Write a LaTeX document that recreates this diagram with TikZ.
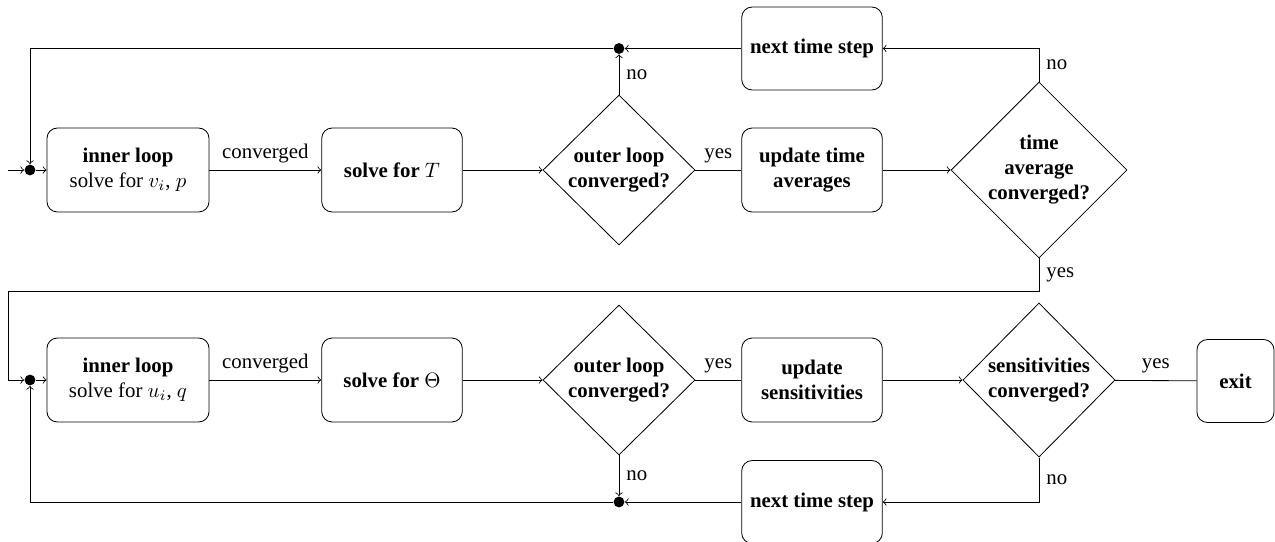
\documentclass[tikz,border=0pt]{standalone}
\usepackage{fontspec}
\setmainfont{Liberation Serif}
\usetikzlibrary{shapes.geometric}

\begin{document}
\begin{tikzpicture}[x=0.48pt, y=-0.48pt,
  box/.style={draw, rounded corners=5pt, align=center, font=\bfseries,
              minimum height=40.3pt, inner sep=2pt},
  wide/.style={minimum width=77.8pt},
  mid/.style={minimum width=67.5pt},
  decide/.style={draw, diamond, align=center, font=\bfseries, inner sep=0pt},
  junction/.style={circle, fill, inner sep=0pt, minimum size=5.2pt},
  flow/.style={->},
]
\useasboundingbox (0,0) rectangle (1275,541);

% ---------- upper loop: flow field ----------
\coordinate (start) at (8,170);
\node[junction] (dot1) at (30,170) {};
\node[box, wide] (in1) at (128,170) {inner loop\\\mdseries solve for $v_i$, $p$};
\node[box, mid] (solveT) at (392,170) {solve for $T$};
\node[decide, minimum width=73pt, minimum height=72pt] (d1) at (619,170) {outer loop\\converged?};
\node[box, mid] (upd1) at (812,170) {update time\\averages};
\node[decide, minimum width=84.5pt, minimum height=84.5pt] (d2) at (1039,170) {time\\average\\converged?};
\node[box, mid, minimum height=39.8pt] (next1) at (812,48.5) {next time step};
\node[junction] (dot2) at (619,48.5) {};

\draw[flow] (start) -- (dot1);
\draw[flow] (dot1) -- (in1);
\draw[flow] (in1) -- node[above] {converged} (solveT);
\draw[flow] (solveT) -- (d1);
\draw (d1) -- node[above] {yes} (upd1);
\draw[flow] (upd1) -- (d2);
\draw[flow] (d2.north) |- node[pos=0.25, right] {no} (next1);
\draw[flow] (next1) -- (dot2);
\draw[flow] (d1) -- node[right] {no} (dot2);
\draw[flow] (dot2) -| (dot1);

% ---------- lower loop: sensitivities ----------
\coordinate (c1) at (1039,291);
\coordinate (c2) at (8,291);
\node[junction] (dot3) at (30,380) {};
\node[box, wide] (in2) at (128,380) {inner loop\\\mdseries solve for $u_i$, $q$};
\node[box, mid] (solveTh) at (392,380) {solve for $\Theta$};
\node[decide, minimum width=73pt, minimum height=72pt] (d3) at (619,380) {outer loop\\converged?};
\node[box, mid] (upd2) at (812,380) {update\\sensitivities};
\node[decide, minimum width=73pt, minimum height=74pt] (d4) at (1039,380) {sensitivities\\converged?};
\node[box, minimum width=37pt, minimum height=39.8pt] (exit) at (1235.5,381) {exit};
\node[box, mid, minimum height=39.8pt] (next2) at (812,502) {next time step};
\node[junction] (dot4) at (619,502) {};

\draw[flow] (d2.south) -- node[right] {yes} (c1) -- (c2) |- (dot3);
\draw[flow] (dot3) -- (in2);
\draw[flow] (in2) -- node[above] {converged} (solveTh);
\draw[flow] (solveTh) -- (d3);
\draw (d3) -- node[above] {yes} (upd2);
\draw[flow] (upd2) -- (d4);
\draw (d4) -- node[above] {yes} (exit);
\draw[flow] (d4.south) |- node[pos=0.25, right] {no} (next2);
\draw[flow] (next2) -- (dot4);
\draw[flow] (d3) -- node[right] {no} (dot4);
\draw[flow] (dot4) -| (dot3);
\end{tikzpicture}
\end{document}
